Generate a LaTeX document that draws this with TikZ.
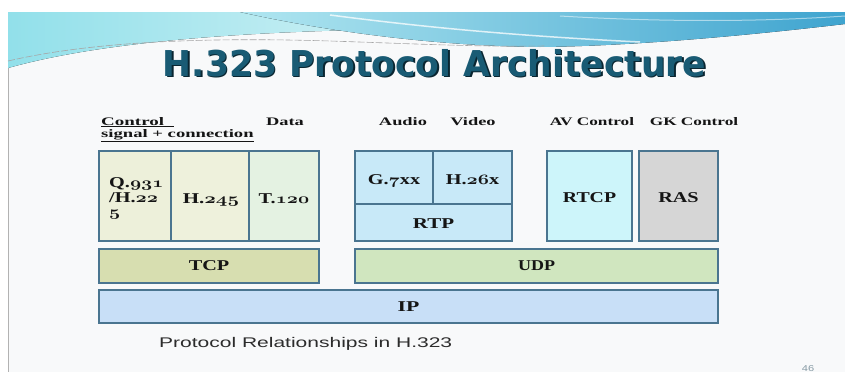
\documentclass[tikz,border=0pt]{standalone}
\usepackage{fontspec}
\usepackage{graphicx}
\newfontfamily\headfont{DejaVu Sans}
\newfontfamily\capfont{Liberation Sans}
\newfontfamily\labfont{Liberation Serif}
% old-style digits taken from the bold math italic font
\newcommand\osd[1]{{\usefont{OML}{cmm}{b}{it}#1}}
\newcommand\wide[2]{\scalebox{#1}[1]{#2}}
\newcommand\titletext{H.323 Protocol Architecture}

\definecolor{slidebg}{HTML}{F8F9FA}
\definecolor{edge}{HTML}{4A7590}
\definecolor{ink}{HTML}{151515}
\definecolor{qfill}{HTML}{EDF0DA}
\definecolor{hfill}{HTML}{EEF1DC}
\definecolor{tfill}{HTML}{E4F2E2}
\definecolor{tcpfill}{HTML}{D7DEB0}
\definecolor{avfill}{HTML}{C8E9F8}
\definecolor{rtcpfill}{HTML}{CDF5FA}
\definecolor{rasfill}{HTML}{D6D6D6}
\definecolor{udpfill}{HTML}{D0E6BF}
\definecolor{ipfill}{HTML}{C8DFF7}
\definecolor{titlefill}{HTML}{195B74}
\definecolor{titleshade}{HTML}{0A2631}
\definecolor{cyanA}{HTML}{92E0EA}
\definecolor{cyanB}{HTML}{EEF9FA}
\definecolor{bandA}{HTML}{B0E6F0}
\definecolor{bandB}{HTML}{3FA4CF}

\tikzset{
  layer/.style={draw=edge, line width=1.2pt, inner sep=0pt, outer sep=0pt},
  boxtxt/.style={font=\labfont\bfseries\fontsize{15}{15}\selectfont, text=ink, inner sep=0pt, anchor=base},
  toptxt/.style={font=\labfont\bfseries\fontsize{11.5}{11.5}\selectfont, text=ink, inner sep=0pt, anchor=base},
}

\begin{document}
\begin{tikzpicture}[x=1pt, y=-1pt]
\useasboundingbox (0,0) rectangle (845,372);
\fill[white] (0,0) rectangle (845,372);
% slide page
\fill[slidebg] (8,12) rectangle (845,372);
\draw[gray!60, line width=0.8pt] (8,12) -- (8,372);

% header swoosh
\fill[left color=cyanA, right color=cyanB]
  (8,12) -- (620,12) -- (620,30)
  .. controls (400,26) and (150,28) .. (8,68) -- cycle;
\fill[left color=bandA, right color=bandB]
  (240,12) -- (845,12) -- (845,24)
  .. controls (760,34) and (640,46) .. (540,47)
  .. controls (430,46) and (320,30) .. (240,12) -- cycle;
\draw[white, opacity=0.75, line width=1.5pt]
  (330,15) .. controls (430,28) and (520,36) .. (640,42);
\draw[white, opacity=0.5, line width=1pt]
  (560,16) .. controls (660,22) and (760,22) .. (845,16);
\draw[gray!70, line width=0.6pt, dash pattern=on 7pt off 2pt]
  (8,61) .. controls (90,42) and (200,37) .. (330,41)
  .. controls (420,44) and (480,47) .. (545,46);

% title with its drop shadow set in the same box
\node[font=\headfont\bfseries\fontsize{35.6}{36}\selectfont,
      inner sep=0pt, anchor=base] (title) at (434.5,76)
      {\wide{0.97}{\rlap{\kern1.7pt\raisebox{-1.8pt}{\textcolor{titleshade}{\titletext}}}\textcolor{titlefill}{\titletext}}};

% column headings
\node[toptxt, anchor=base west] (ctl) at (101,125) {\wide{1.65}{\underline{Control\ \ }}};
\node[toptxt, anchor=base west] (sig) at (101,137) {\wide{1.62}{\underline{signal + connection}}};
\node[toptxt] (data) at (285,125) {\wide{1.6}{Data}};
\node[toptxt] (audio) at (403,125) {\wide{1.6}{Audio}};
\node[toptxt] (video) at (473,125) {\wide{1.6}{Video}};
\node[toptxt] (avc) at (592,125) {\wide{1.5}{AV Control}};
\node[toptxt] (gkc) at (694,125) {\wide{1.5}{GK Control}};

% protocol layers
\node[layer, fill=qfill, minimum width=72pt, minimum height=90pt] (q931) at (135,196) {};
\node[layer, fill=hfill, minimum width=78pt, minimum height=90pt] (h245) at (210,196) {};
\node[layer, fill=tfill, minimum width=70pt, minimum height=90pt] (t120) at (284,196) {};
\node[layer, fill=tcpfill, minimum width=220pt, minimum height=34pt] (tcp) at (209,266) {};
\node[layer, fill=avfill, minimum width=78pt, minimum height=53pt] (g7xx) at (394,177.5) {};
\node[layer, fill=avfill, minimum width=79pt, minimum height=53pt] (h26x) at (472.5,177.5) {};
\node[layer, fill=avfill, minimum width=157pt, minimum height=37pt] (rtp) at (433.5,222.5) {};
\node[layer, fill=rtcpfill, minimum width=85pt, minimum height=90pt] (rtcp) at (589.5,196) {};
\node[layer, fill=rasfill, minimum width=79pt, minimum height=90pt] (ras) at (678.5,196) {};
\node[layer, fill=udpfill, minimum width=363pt, minimum height=34pt] (udp) at (536.5,266) {};
\node[layer, fill=ipfill, minimum width=619pt, minimum height=33pt] (ip) at (408.5,306.5) {};

% layer names
\node[boxtxt, anchor=base west] (q931a) at (109,187) {\wide{1.35}{Q.\osd{931}}};
\node[boxtxt, anchor=base west] (q931b) at (109,202) {\wide{1.35}{/H.\osd{22}}};
\node[boxtxt, anchor=base west] (q931c) at (109,216) {\wide{1.35}{\osd{5}}};
\node[boxtxt] (h245t) at (211,203) {\wide{1.4}{H.\osd{245}}};
\node[boxtxt] (t120t) at (284,203) {\wide{1.35}{T.\osd{120}}};
\node[boxtxt] (g7xxt) at (394,184) {\wide{1.35}{G.\osd{7}xx}};
\node[boxtxt] (h26xt) at (472.5,184) {\wide{1.35}{H.\osd{26}x}};
\node[boxtxt] (rtpt) at (433.5,228) {\wide{1.4}{RTP}};
\node[boxtxt] (rtcpt) at (589.5,202) {\wide{1.32}{RTCP}};
\node[boxtxt] (rast) at (678.5,202) {\wide{1.35}{RAS}};
\node[boxtxt] (tcpt) at (209,270) {\wide{1.35}{TCP}};
\node[boxtxt] (udpt) at (536.5,270.5) {\wide{1.2}{UDP}};
\node[boxtxt] (ipt) at (408.5,311.5) {\wide{1.45}{IP}};

% caption and page number
\node[font=\capfont\fontsize{14}{14}\selectfont, text=ink!90, inner sep=0pt,
      anchor=base west] (caption) at (159,347.5) {\wide{1.5}{Protocol Relationships in H.323}};
\node[font=\capfont\fontsize{8.5}{9}\selectfont, text=gray!80!cyan, inner sep=0pt,
      anchor=base] (pageno) at (808,371) {\wide{1.3}{46}};
\end{tikzpicture}
\end{document}
